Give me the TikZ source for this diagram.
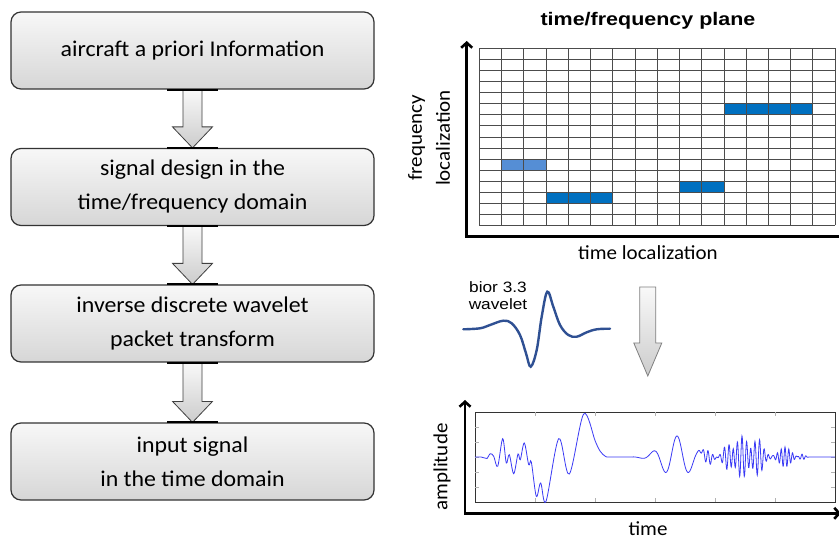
\documentclass[tikz,border=0pt]{standalone}
\usepackage{fontspec}
\usetikzlibrary{arrows.meta, calc}

\newfontfamily\boxfont[FakeStretch=1.06]{Carlito}
\newfontfamily\labfont[FakeStretch=1.05]{Carlito}
\newfontfamily\titlefont[FakeStretch=1.18]{Liberation Sans}
\newfontfamily\wavfont[FakeStretch=1.15]{Liberation Sans}

\definecolor{blkdark}{HTML}{0070C0}
\definecolor{blklight}{HTML}{558ED5}
\definecolor{wavblue}{HTML}{2F5093}
\definecolor{sigblue}{HTML}{3A3AF5}

\tikzset{
  flowbox/.style={draw=black!80, line width=1.2pt, rounded corners=10pt,
    top color=gray!6, bottom color=gray!32, minimum width=363pt,
    minimum height=77pt, align=center,
    font=\boxfont\fontsize{22.5}{34}\selectfont},
  blockarrow/.style={draw=black!75, line width=0.8pt, top color=gray!5, bottom color=gray!40},
  axisline/.style={line width=2.6pt, line join=miter,
    {Straight Barb[length=5pt,width=11pt]}-{Straight Barb[length=5pt,width=11pt]}},
  cellline/.style={gray!60!black, line width=0.6pt},
  sigtick/.style={gray!60, line width=0.6pt},
  axislabel/.style={font=\labfont\fontsize{20}{28}\selectfont, align=center}
}

\begin{document}
\begin{tikzpicture}[x=1pt, y=-1pt]
    \clip (0,0) rectangle (839,540);
    \fill[white] (0,0) rectangle (839,540);

    % Flow boxes
    \node[flowbox] (info) at (192.5,50.5) {aircraft a priori Information};
    \node[flowbox] (design) at (192.5,187) {signal design in the\\time/frequency domain};
    \node[flowbox] (idwpt) at (192.5,323.5) {inverse discrete wavelet\\packet transform};
    \node[flowbox] (input) at (192.5,461.5) {input signal\\in the time domain};

    % Block arrows between boxes
    \foreach \a/\b in {info/design, design/idwpt, idwpt/input} {
        \draw[blockarrow] ($(\a.south)+(-9.5,0)$) -- ($(\b.north)+(-9.5,-21)$)
            -- ($(\b.north)+(-20,-21)$) -- (\b.north) -- ($(\b.north)+(20,-21)$)
            -- ($(\b.north)+(9.5,-21)$) -- ($(\a.south)+(9.5,0)$) -- cycle;
        \draw[line width=2pt] ($(\a.south)+(-25.5,0)$) -- ($(\a.south)+(25.5,0)$);
        \draw[line width=2pt] ($(\b.north)+(-25.5,0)$) -- ($(\b.north)+(25.5,0)$);
    }

    % Time/frequency plane
    \node[font=\titlefont\bfseries\fontsize{18.2}{20}\selectfont, anchor=base] (tftitle) at (648,26) {time/frequency plane};
    \begin{scope}[shift={(479.3,225.3)}, x=22.23pt, y=11.06pt]
        \fill[blklight] (1,5) rectangle (3,6);
        \fill[blkdark] (3,2) rectangle (6,3);
        \fill[blkdark] (9,3) rectangle (11,4);
        \fill[blkdark] (11,10) rectangle (15,11);
        \foreach \i in {0,...,16} {
            \draw[cellline] (\i,0) -- (\i,16);
            \draw[cellline] (0,\i) -- (16,\i);
        }
    \end{scope}
    \coordinate (tforigin) at (466.7,236.7);
    \draw[axisline] (466.7,41) -- (tforigin) -- (848,236.7);
    \node[axislabel, rotate=90] (freqlbl) at (429,138) {frequency\\localization};
    \node[axislabel, anchor=base] (timelbl) at (648,260) {time localization};

    % Wavelet
    \node[font=\wavfont\fontsize{15}{17}\selectfont, align=center] (wavlbl) at (498,296) {bior 3.3\\wavelet};
    \draw[wavblue, line width=2.4pt, line cap=round] plot[smooth, tension=0.6] coordinates {
        (463.3,329.3) (480,328.3) (490,325) (503.3,320.7) (511.7,323.3) (520,335)
        (526,353.3) (530.7,366.7) (536.7,350) (541.7,316.7) (547.3,291.7)
        (553.3,306.7) (560,325) (568.3,335) (576.7,336.7) (586.7,332.3)
        (596.7,329.3) (610,328.7)};

    % Arrow down to the signal
    \coordinate (tftop) at (647.8,287);
    \coordinate (tftip) at (647.8,376);
    \draw[blockarrow, draw=gray] ($(tftop)+(-8,0)$) -- ($(tftip)+(-8,-33)$)
        -- ($(tftip)+(-14,-33)$) -- (tftip) -- ($(tftip)+(14,-33)$)
        -- ($(tftip)+(8,-33)$) -- ($(tftop)+(8,0)$) -- cycle;

    % Signal plot
    \draw[black!80, line width=0.7pt] (475,412) rectangle (835,502);
    \foreach \t in {427,442,457,472,487} {
        \draw[sigtick] (475,\t) -- ++(4,0);
        \draw[sigtick] (835,\t) -- ++(-4,0);
    }
    \foreach \t in {535,595,655,715,775} {
        \draw[sigtick] (\t,412) -- ++(0,4);
        \draw[sigtick] (\t,502) -- ++(0,-4);
    }
    \draw[sigblue, line width=0.8pt] plot[smooth, tension=0.55] coordinates {
        (475,457) (481,457) (484.7,458) (487,458.5) (490.3,453.7) (493.7,456.3)
        (497.7,466.3) (502.7,438.7) (506.3,463) (509.3,454.7) (513.7,473.7)
        (518,454) (520.3,459.7) (524.3,443) (528.7,464.7) (531.3,462)
        (536.3,496.3) (540.7,483) (546,501.3) (558.7,438.7) (569.3,474)
        (583.7,414) (595.3,441.3) (600,451) (605.3,456.3) (610,457) (633,457)};
    \draw[sigblue, line width=0.8pt] plot[domain=633:835, samples=700] (\x, {457
        - 21*exp(-((\x-677)/21)^2)*cos(15*(\x-677))
        - 7*exp(-((\x-708)/6)^2)*cos(75*(\x-708))
        - exp(-((\x-745)/22)^4)*(15*cos(82*(\x-742)) + 6*cos(61*(\x-742)))
        - 10*exp(-((\x-785)/8)^2)*cos(95*(\x-785))
        - 3*exp(-((\x-802)/4)^2)*cos(90*(\x-802))});
    \draw[axisline] (465,400) -- (465,513.3) -- (841,513.3);
    \node[axislabel, rotate=90] (amplbl) at (442,467) {amplitude};
    \node[axislabel, anchor=base, inner sep=1pt] (siglbl) at (648,535) {time};
\end{tikzpicture}
\end{document}
